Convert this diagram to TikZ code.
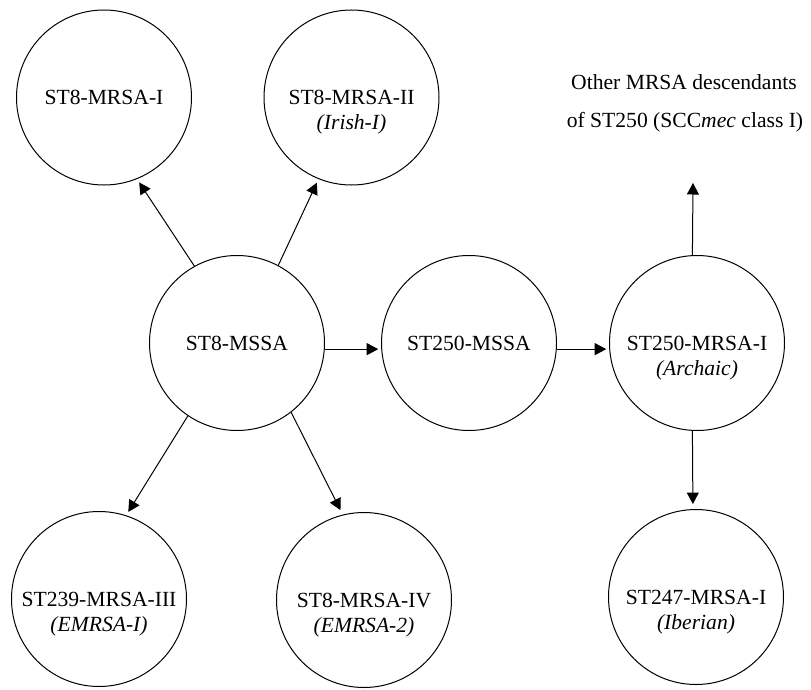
\documentclass[tikz,border=0pt]{standalone}
\usepackage{fontspec}
\setmainfont{Liberation Serif}
\usetikzlibrary{arrows.meta}
\begin{document}
\begin{tikzpicture}[x=1pt,y=-1pt,
  every node/.style={font=\fontsize{21.6}{25}\selectfont},
  strain/.style={circle,draw,line width=1pt,minimum size=175pt,inner sep=0pt},
  sub/.style={anchor=base,inner sep=0pt,font=\fontsize{21.6}{25}\selectfont\itshape},
  txt/.style={inner sep=0pt},
  arr/.style={line width=1pt,-{Triangle[length=11.5pt,width=12pt]}}]
\useasboundingbox (0,0) rectangle (811,690);
% nodes
\node[strain] (a) at (104,97.5) {ST8-MRSA-I};
\node[strain] (b) at (351.5,97.5) {ST8-MRSA-II};
\node[sub] (b2) at ([yshift=-25pt]b.base) {(Irish-I)};
\node[strain] (m) at (237,343) {ST8-MSSA};
\node[strain] (s) at (469,343) {ST250-MSSA};
\node[strain] (r) at (697,343) {ST250-MRSA-I};
\node[sub] (r2) at ([yshift=-25pt]r.base) {(Archaic)};
\node[strain] (c) at (99,599) {ST239-MRSA-III};
\node[sub] (c2) at ([yshift=-25pt]c.base) {(EMRSA-I)};
\node[strain] (d) at (364,600) {ST8-MRSA-IV};
\node[sub] (d2) at ([yshift=-25pt]d.base) {(EMRSA-2)};
\node[strain] (e) at (696,597) {ST247-MRSA-I};
\node[sub] (e2) at ([yshift=-25pt]e.base) {(Iberian)};
\node[txt] (o1) at (684,82) {Other MRSA descendants};
\node[txt] (o2) at (685,122) {of ST250 (SCC\textit{mec} class I)};
\coordinate (up) at (693,183);
% connectors
\draw[arr,shorten >=4pt] (m.119) -- (a.-68);
\draw[arr,shorten >=4pt] (m.62) -- (b.248);
\draw[arr,shorten >=4pt] (m.236) -- (c.72);
\draw[arr,shorten >=5pt] (m.-52) -- (d.104);
\draw[arr,shorten >=3pt] (m.-4) -- (s.184);
\draw[arr,shorten >=3pt] (s.-4) -- (r.184);
\draw[arr] (r.93) -- (up);
\draw[arr,shorten >=5pt] (r.267) -- (e.92);
\end{tikzpicture}
\end{document}
